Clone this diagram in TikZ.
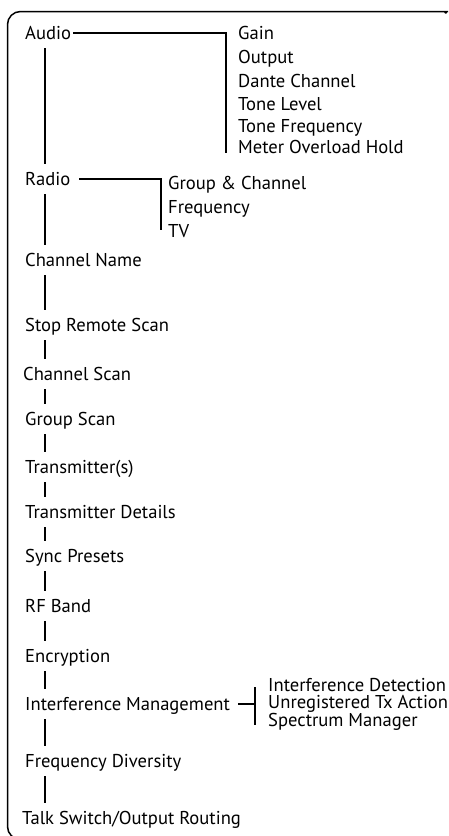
\documentclass[tikz,border=0pt]{standalone}
\usepackage{fontspec}
\setmainfont{PT Sans}
\begin{document}
\begin{tikzpicture}[x=1pt,y=-1pt,
  item/.style={anchor=base west, inner sep=0pt, text height=21pt, text depth=9pt, font=\fontsize{18.6}{22}\selectfont},
  sub/.style={anchor=base west, inner sep=0pt, text height=12pt, text depth=3.5pt, font=\fontsize{18.6}{22}\selectfont},
  conn/.style={line width=1.3pt},
  frame/.style={line width=1.5pt, rounded corners=13pt}]
\useasboundingbox (0,0) rectangle (448,836);
\clip (0,0) rectangle (448,836);
% frame: rounded box running past the right and bottom edges
\draw[frame] (60,839.5) -- (7.5,839.5) -- (7.5,11.5) -- (440,11.5) arc[start angle=90, end angle=60, radius=13pt];
\coordinate (sx) at (45,0);
% main column
\node[item] (audio) at (25,39) {Audio};
\node[item] (radio) at (25,185) {Radio};
\node[item] (chname) at (25,266) {Channel Name};
\node[item] (srs) at (25,331) {Stop Remote Scan};
\node[item] (cscan) at (23,380) {Channel Scan};
\node[item] (gscan) at (25,425) {Group Scan};
\node[item] (tx) at (25,473) {Transmitter(s)};
\node[item] (txd) at (25,518) {Transmitter Details};
\node[item] (sync) at (25,562) {Sync Presets};
\node[item] (rf) at (25,612) {RF Band};
\node[item] (enc) at (25,662) {Encryption};
\node[item] (im) at (25,710) {Interference Management};
\node[item] (fd) at (25,767) {Frequency Diversity};
\node[item] (talk) at (22,824) {Talk Switch/Output Routing};
% audio children
\node[sub] (gain) at (238,39) {Gain};
\node[sub] (output) at (238,63) {Output};
\node[sub] (dante) at (238,87) {Dante Channel};
\node[sub] (tlevel) at (238,110) {Tone Level};
\node[sub] (tfreq) at (238,132) {Tone Frequency};
\node[sub] (meter) at (238,153) {Meter Overload Hold};
% radio children
\node[sub] (gc) at (168,189) {Group \& Channel};
\node[sub] (freq) at (168,213) {Frequency};
\node[sub] (tv) at (168,237) {TV};
% interference children
\node[sub] (idet) at (268,691) {Interference Detection};
\node[sub] (unreg) at (268,708.5) {Unregistered Tx Action};
\node[sub] (spec) at (268,726) {Spectrum Manager};
% spine connectors
\foreach \a/\b in {audio/radio,radio/chname,chname/srs,srs/cscan,cscan/gscan,gscan/tx,tx/txd,txd/sync,sync/rf,rf/enc,enc/im,im/fd,fd/talk}
  \draw[conn] (\a.south -| sx) -- (\b.north -| sx);
% branches
\coordinate (abar) at (226,153);
\draw[conn] ([xshift=2pt]audio.east) -| (abar);
\coordinate (rbar) at (161,230);
\draw[conn] ([xshift=9pt]radio.east) -| (rbar);
\coordinate (ibar1) at (255,687);
\coordinate (ibar2) at (255,725);
\draw[conn] (ibar1) -- (ibar2);
\draw[conn] ([xshift=8pt]im.east) -- (im.east -| ibar1);
\end{tikzpicture}
\end{document}
